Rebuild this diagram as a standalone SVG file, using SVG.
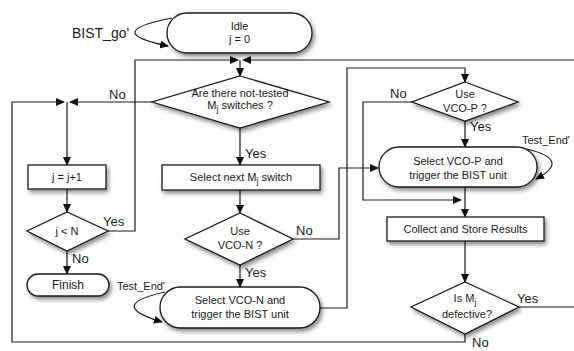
<svg xmlns="http://www.w3.org/2000/svg" width="574" height="351" viewBox="0 0 574 351">
<defs>
<style>
text{font-family:"Liberation Sans",Arial,sans-serif;fill:#1a1a1a}
.n{font-size:11px;text-anchor:middle}
.lb{font-size:13px}
.sm{font-size:11px}
.sh{fill:#fff;stroke:#1a1a1a;stroke-width:1.3;filter:url(#ds)}
.c{fill:none;stroke:#1a1a1a;stroke-width:1.2}
.sub{font-size:9px}
</style>
<filter id="ds" x="-20%" y="-30%" width="140%" height="170%">
<feDropShadow dx="2" dy="3" stdDeviation="2" flood-color="#000" flood-opacity="0.45"/>
</filter>
<marker id="a" markerWidth="9" markerHeight="8" refX="8" refY="4" orient="auto" markerUnits="userSpaceOnUse">
<path d="M0,0 L9,4 L0,8 Z" fill="#111"/>
</marker>
</defs>

<g id="connectors">
<path class="c" d="M172 18 Q100 32 168 46" marker-end="url(#a)"/>
<path class="c" d="M108 231 L135 231 L135 60 L238 60" marker-end="url(#a)"/>
<path class="c" d="M574 60 L243 60" marker-end="url(#a)"/>
<path class="c" d="M240 60 L240 76" marker-end="url(#a)"/>
<path class="c" d="M152 102 L70 102" marker-end="url(#a)"/>
<path class="c" d="M465 334 L465 342 L12 342 L12 102 L64 102" marker-end="url(#a)"/>
<path class="c" d="M67 102 L67 165" marker-end="url(#a)"/>
<path class="c" d="M240 128 L240 165" marker-end="url(#a)"/>
<path class="c" d="M67 189 L67 212" marker-end="url(#a)"/>
<path class="c" d="M67 251 L67 274" marker-end="url(#a)"/>
<path class="c" d="M240 190 L240 213" marker-end="url(#a)"/>
<path class="c" d="M240 265 L240 287" marker-end="url(#a)"/>
<path class="c" d="M293 239 L339 239 L339 168 L378 168" marker-end="url(#a)"/>
<path class="c" d="M165 292 Q105 305 162 322" marker-end="url(#a)"/>
<path class="c" d="M320 308 L347 308 L347 68 L465 68 L465 82" marker-end="url(#a)"/>
<path class="c" d="M412 102 L363 102 L363 200 L461 200" marker-end="url(#a)"/>
<path class="c" d="M465 121 L465 147" marker-end="url(#a)"/>
<path class="c" d="M527 149 Q572 160 536 179" marker-end="url(#a)"/>
<path class="c" d="M465 187 L465 217" marker-end="url(#a)"/>
<path class="c" d="M465 241 L465 282" marker-end="url(#a)"/>
<path class="c" d="M519 307 L574 307"/>
<text x="72" y="38" style="font-size:14px">BIST_go'</text>
<text class="lb" x="109" y="99">No</text>
<text class="lb" x="245" y="158">Yes</text>
<text class="lb" x="103" y="226">Yes</text>
<text class="lb" x="72" y="263">No</text>
<text class="lb" x="296" y="235">No</text>
<text class="lb" x="245" y="277">Yes</text>
<text class="sm" x="117" y="290">Test_End'</text>
<text class="lb" x="390" y="98">No</text>
<text class="lb" x="470" y="131">Yes</text>
<text class="sm" x="522" y="144">Test_End'</text>
<text class="lb" x="517" y="303">Yes</text>
<text class="lb" x="472" y="347">No</text>
</g>

<g id="idle">
<rect class="sh" x="167" y="13" width="145" height="40" rx="20"/>
<text class="n" x="239.5" y="30">Idle</text>
<text class="n" x="239.5" y="43">j = 0</text>
</g>

<g id="q-not-tested">
<polygon class="sh" points="240,76 329,102 240,128 152,102"/>
<text class="n" x="240" y="97">Are there not-tested</text>
<text class="n" x="240" y="109">M<tspan class="sub" dy="3">j</tspan><tspan dy="-3"> switches ?</tspan></text>
</g>

<g id="select-next">
<rect class="sh" x="162" y="165" width="158" height="25"/>
<text class="n" x="241" y="181">Select next M<tspan class="sub" dy="3">j</tspan><tspan dy="-3"> switch</tspan></text>
</g>

<g id="q-vco-n">
<polygon class="sh" points="240,213 293,239 240,265 185,239"/>
<text class="n" x="240" y="235">Use</text>
<text class="n" x="240" y="249">VCO-N ?</text>
</g>

<g id="vco-n">
<rect class="sh" x="160" y="287" width="160" height="41" rx="20.5"/>
<text class="n" x="240" y="304">Select VCO-N and</text>
<text class="n" x="240" y="318">trigger the BIST unit</text>
</g>

<g id="q-vco-p">
<polygon class="sh" points="465,82 518,102 465,121 412,102"/>
<text class="n" x="465" y="98">Use</text>
<text class="n" x="465" y="112">VCO-P ?</text>
</g>

<g id="vco-p">
<rect class="sh" x="379" y="147" width="158" height="40" rx="20"/>
<text class="n" x="458" y="165">Select VCO-P and</text>
<text class="n" x="458" y="179">trigger the BIST unit</text>
</g>

<g id="collect">
<rect class="sh" x="387" y="217" width="157" height="24"/>
<text class="n" x="465.5" y="233">Collect and Store Results</text>
</g>

<g id="q-defective">
<polygon class="sh" points="465,282 519,307 465,334 411,307"/>
<text class="n" x="465" y="302">Is M<tspan class="sub" dy="3">j</tspan></text>
<text class="n" x="467" y="318">defective?</text>
</g>

<g id="j-inc">
<rect class="sh" x="28" y="165" width="78" height="24"/>
<text class="n" x="67" y="181">j = j+1</text>
</g>

<g id="q-j-lt-n">
<polygon class="sh" points="67,212 108,231 67,251 27,231"/>
<text class="n" x="67" y="235">j &lt; N</text>
</g>

<g id="finish">
<rect class="sh" x="27" y="274" width="82" height="22" rx="11"/>
<text class="n" x="68" y="289" style="font-size:12px">Finish</text>
</g>
</svg>
